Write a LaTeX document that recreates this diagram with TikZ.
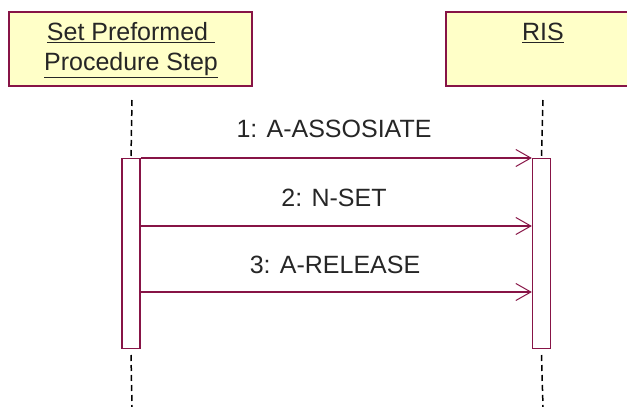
\documentclass[tikz,border=0pt]{standalone}
\usepackage{fontspec}
\setmainfont{Liberation Sans}
\usetikzlibrary{arrows.meta}
\definecolor{umlline}{RGB}{135,20,70}
\definecolor{umlfill}{RGB}{255,255,200}
\tikzset{
  headbox/.style={draw=umlline, fill=umlfill, line width=1.4pt},
  actbox/.style={draw=umlline, fill=white, line width=1.3pt},
  lifeline/.style={draw=black, line width=1.5pt, dash pattern=on 6pt off 4pt},
  msg/.style={draw=umlline, line width=1.3pt, -{Straight Barb[length=15pt,width=17pt,line width=1pt]}},
  lbl/.style={font=\fontsize{25pt}{28pt}\selectfont, text=black!85, inner sep=0pt},
}
\begin{document}
\begin{tikzpicture}[x=1pt,y=1pt]
\useasboundingbox (0,0) rectangle (627,-407);
% header boxes
\draw[headbox] (9,-12) rectangle (252,-86);
\draw[headbox] (446,-12) rectangle (627.5,-86);
\node[lbl] (h1a) at (131,-33) {\underline{Set Preformed\ }};
\node[lbl] (h1b) at (131,-65) {\underline{Procedure Step}};
\node[lbl] (h2) at (543,-33) {\underline{RIS}};
% lifeline top/bottom points
\coordinate (lt) at (132,-100);
\coordinate (lb) at (132,-407);
\coordinate (rt) at (543,-100);
\coordinate (rb) at (543,-407);
% activation boxes
\node[actbox, minimum width=18pt, minimum height=190pt, inner sep=0pt, anchor=north] (actL) at (131,-158) {};
\node[actbox, minimum width=18pt, minimum height=190pt, inner sep=0pt, anchor=north] (actR) at (541.5,-158) {};
\draw[lifeline] (lt) -- (actL.north);
\draw[lifeline] (actL.south |- 0,-355) -- (lb);
\draw[lifeline] (rt) -- (actR.north);
\draw[lifeline] (actR.south |- 0,-355) -- (rb);
% messages
\coordinate (m1s) at (actL.east |- 0,-158);
\coordinate (m1e) at (actR.west |- 0,-158);
\coordinate (m2s) at (actL.east |- 0,-226);
\coordinate (m2e) at (actR.west |- 0,-226);
\coordinate (m3s) at (actL.east |- 0,-292);
\coordinate (m3e) at (actR.west |- 0,-292);
\draw[msg] (m1s) -- (m1e);
\draw[msg] (m2s) -- (m2e);
\draw[msg] (m3s) -- (m3e);
\node[lbl] (l1) at (334,-129) {1: A-ASSOSIATE};
\node[lbl] (l2) at (334,-198) {2: N-SET};
\node[lbl] (l3) at (335,-265) {3: A-RELEASE};
\end{tikzpicture}
\end{document}
